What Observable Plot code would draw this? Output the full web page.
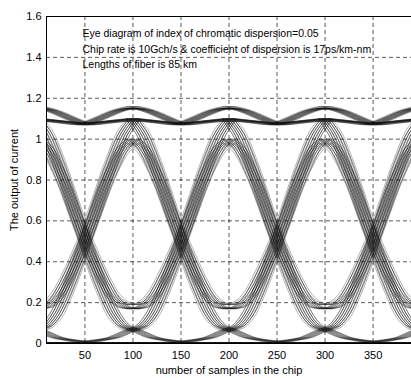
<!DOCTYPE html>
<html>
<head>
<meta charset="utf-8">
<script src="https://cdn.jsdelivr.net/npm/d3@7"></script>
<script src="https://cdn.jsdelivr.net/npm/@observablehq/plot@0.6"></script>
<style>
  html, body { margin: 0; padding: 0; background: #fff; }
</style>
</head>
<body>
<div id="chart"></div>
<script>
// Sample offsets inside one symbol interval (centre to next centre)
const tSamples = [0, 10, 20, 30, 40, 50, 60, 70, 80, 90, 100];
// Symbol-interval start positions (in samples) across the window
const symbolStarts = [0, 100, 200, 300];
// Timing spread of the overlaid traces (samples)
const jitter = [-6, -3.5, -1, 1.5, 4, 6.5];

// Rising transitions (0 -> 1)
const rise0010 = [0.07, 0.09, 0.15, 0.25, 0.37, 0.50, 0.63, 0.76, 0.87, 0.96, 1.00];
const rise0010b = [0.06, 0.08, 0.13, 0.23, 0.35, 0.49, 0.62, 0.75, 0.86, 0.94, 0.98];
const rise1010 = [0.17, 0.18, 0.22, 0.30, 0.40, 0.51, 0.63, 0.76, 0.87, 0.96, 1.00];
const rise0011 = [0.07, 0.09, 0.15, 0.25, 0.37, 0.50, 0.64, 0.78, 0.91, 1.02, 1.09];
const rise1011 = [0.17, 0.18, 0.22, 0.30, 0.40, 0.51, 0.64, 0.78, 0.91, 1.02, 1.09];
const rise1011b = [0.19, 0.20, 0.24, 0.32, 0.42, 0.53, 0.66, 0.80, 0.93, 1.04, 1.10];
// Falling transitions (1 -> 0)
const fall0100 = [1.00, 0.96, 0.87, 0.76, 0.63, 0.50, 0.37, 0.25, 0.15, 0.09, 0.07];
const fall0100b = [0.98, 0.94, 0.86, 0.75, 0.62, 0.49, 0.35, 0.23, 0.13, 0.08, 0.06];
const fall0101 = [1.00, 0.96, 0.87, 0.76, 0.63, 0.51, 0.40, 0.30, 0.22, 0.18, 0.17];
const fall1100 = [1.09, 1.02, 0.91, 0.78, 0.64, 0.50, 0.37, 0.25, 0.15, 0.09, 0.07];
const fall1101 = [1.09, 1.02, 0.91, 0.78, 0.64, 0.51, 0.40, 0.30, 0.22, 0.18, 0.17];
const fall1101b = [1.10, 1.04, 0.93, 0.80, 0.66, 0.53, 0.42, 0.32, 0.24, 0.20, 0.19];
// Upper rail (1 -> 1)
const top0110 = [1.10, 1.095, 1.09, 1.085, 1.08, 1.075, 1.08, 1.085, 1.09, 1.095, 1.10];
const top0110b = [1.09, 1.088, 1.083, 1.078, 1.072, 1.07, 1.072, 1.078, 1.083, 1.088, 1.09];
const top1111 = [1.15, 1.145, 1.13, 1.11, 1.09, 1.075, 1.09, 1.11, 1.13, 1.145, 1.15];
const top1111b = [1.16, 1.15, 1.135, 1.115, 1.095, 1.08, 1.095, 1.115, 1.135, 1.15, 1.16];
const top1110 = [1.15, 1.145, 1.13, 1.11, 1.09, 1.075, 1.08, 1.085, 1.09, 1.095, 1.10];
const top0111 = [1.10, 1.095, 1.09, 1.085, 1.08, 1.075, 1.09, 1.11, 1.13, 1.145, 1.15];
// Lower rail (0 -> 0)
const low0000 = [0.004, 0.004, 0.004, 0.004, 0.004, 0.004, 0.004, 0.004, 0.004, 0.004, 0.004];
const low1000 = [0.07, 0.05, 0.03, 0.02, 0.01, 0.005, 0.004, 0.004, 0.004, 0.004, 0.004];
const low0001 = [0.004, 0.004, 0.004, 0.004, 0.004, 0.005, 0.01, 0.02, 0.03, 0.05, 0.07];
const low1001 = [0.07, 0.05, 0.03, 0.02, 0.015, 0.01, 0.015, 0.02, 0.03, 0.05, 0.07];

const shapes = [rise0010, rise0010b, rise1010, rise0011, rise1011, rise1011b,
                fall0100, fall0100b, fall0101, fall1100, fall1101, fall1101b,
                top0110, top0110b, top1111, top1111b, top1110, top0111,
                low0000, low1000, low0001, low1001];

const xTicks = [50, 100, 150, 200, 250, 300, 350];
const yTicks = [0, 0.2, 0.4, 0.6, 0.8, 1, 1.2, 1.4, 1.6];
const xDomain = [10, 390];
const yDomain = [0, 1.6];

const titleLines = [
  "Eye diagram of index of chromatic dispersion=0.05",
  "Chip rate is 10Gch/s & coefficient of dispersion is 17ps/km-nm",
  "Lengths of fiber is 85 km"
];
const xLabel = "number of samples in the chip";
const yLabel = "The output of current";

// Build the overlaid traces table from the read shapes
const traces = [];
let id = 0;
shapes.forEach((shape) => {
  symbolStarts.forEach((s0) => {
    jitter.forEach((j) => {
      tSamples.forEach((t, i) => traces.push({id, x: s0 + t + j, y: shape[i]}));
      id++;
    });
  });
});

const chart = Plot.plot({
  width: 411,
  height: 378,
  marginLeft: 46,
  marginRight: 0,
  marginTop: 16,
  marginBottom: 35,
  style: {fontFamily: "'Liberation Sans', Arial, sans-serif", fontSize: "11px", background: "#fff", color: "#000"},
  x: {domain: xDomain},
  y: {domain: yDomain},
  marks: [
    Plot.gridX(xTicks, {stroke: "#000", strokeOpacity: 0.65, strokeDasharray: "4,3"}),
    Plot.gridY(yTicks, {stroke: "#000", strokeOpacity: 0.65, strokeDasharray: "4,3"}),
    Plot.line(traces, {x: "x", y: "y", z: "id", curve: "catmull-rom", stroke: "#111",
      strokeOpacity: 0.45, strokeWidth: 0.7, clip: true}),
    Plot.ruleX([xDomain[0]], {stroke: "#000"}),
    Plot.ruleY(yDomain, {stroke: "#000"}),
    Plot.axisX(xTicks, {tickSize: 0, tickPadding: 8, label: xLabel, labelAnchor: "center",
      labelArrow: "none", labelOffset: 30, fontSize: 11}),
    Plot.axisY(yTicks, {tickSize: 0, tickPadding: 5, tickFormat: d3.format("~g"), label: yLabel,
      labelAnchor: "center", labelArrow: "none", labelOffset: 36, fontSize: 11}),
    Plot.text([titleLines.join("\n")], {text: (d) => d, frameAnchor: "top-left", textAnchor: "start",
      lineAnchor: "top", dx: 36, dy: 10, lineHeight: 1.45, fontSize: 10.5, fill: "#000"})
  ]
});
document.getElementById("chart").appendChild(chart);
</script>
</body>
</html>
